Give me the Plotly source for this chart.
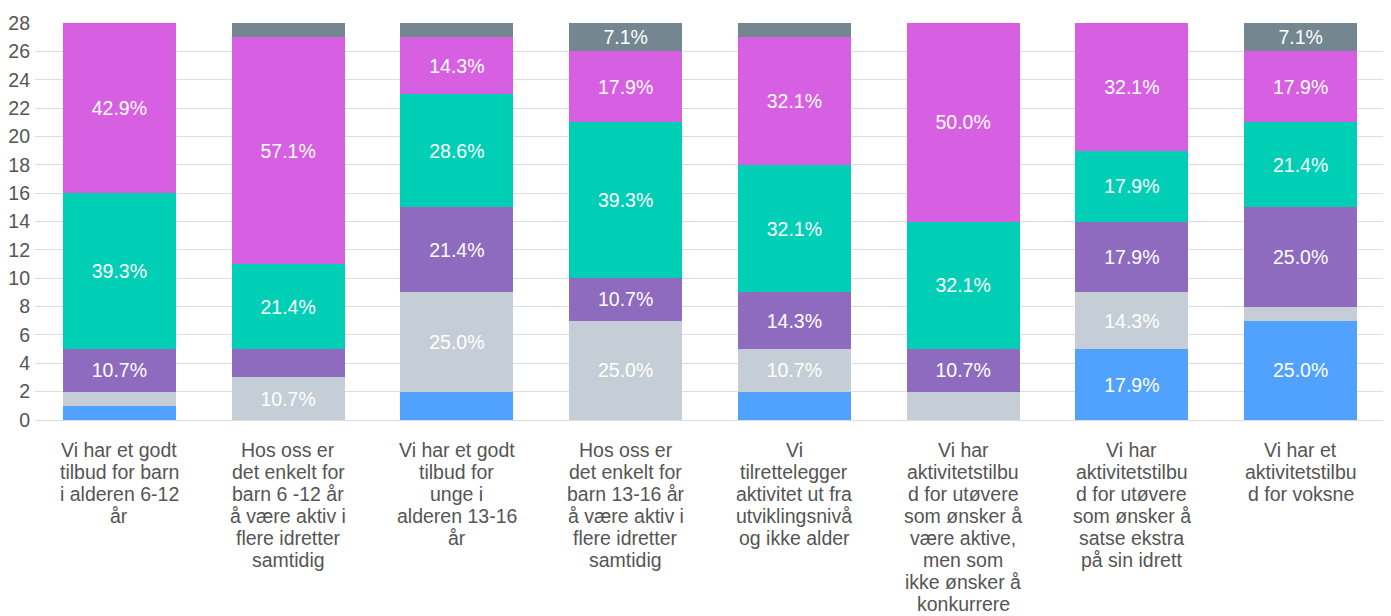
import plotly.graph_objects as go

categories = [
    "Vi har et godt<br>tilbud for barn<br>i alderen 6-12<br>år",
    "Hos oss er<br>det enkelt for<br>barn 6 -12 år<br>å være aktiv i<br>flere idretter<br>samtidig",
    "Vi har et godt<br>tilbud for<br>unge i<br>alderen 13-16<br>år",
    "Hos oss er<br>det enkelt for<br>barn 13-16 år<br>å være aktiv i<br>flere idretter<br>samtidig",
    "Vi<br>tilrettelegger<br>aktivitet ut fra<br>utviklingsnivå<br>og ikke alder",
    "Vi har<br>aktivitetstilbu<br>d for utøvere<br>som ønsker å<br>være aktive,<br>men som<br>ikke ønsker å<br>konkurrere",
    "Vi har<br>aktivitetstilbu<br>d for utøvere<br>som ønsker å<br>satse ekstra<br>på sin idrett",
    "Vi har et<br>aktivitetstilbu<br>d for voksne",
]

total = 28
s1 = [1, 0, 2, 0, 2, 0, 5, 7]       # blue
s2 = [1, 3, 7, 7, 3, 2, 4, 1]       # light gray
s3 = [3, 2, 6, 3, 4, 3, 5, 7]       # purple
s4 = [11, 6, 8, 11, 9, 9, 5, 6]     # teal
s5 = [12, 16, 4, 5, 9, 14, 9, 5]    # magenta
s6 = [0, 1, 1, 2, 1, 0, 0, 2]       # dark gray

series = [
    ("Serie 1", s1, "#51A2FF", 3),
    ("Serie 2", s2, "#C5CED6", 3),
    ("Serie 3", s3, "#8E6BBF", 3),
    ("Serie 4", s4, "#00CFB6", 3),
    ("Serie 5", s5, "#D75FE2", 3),
    ("Serie 6", s6, "#748790", 2),
]

FONT = "Liberation Sans, Arial, Helvetica, sans-serif"

fig = go.Figure()
for name, vals, color, thr in series:
    texts = [f"{v / total * 100:.1f}%" if v >= thr else "" for v in vals]
    fig.add_trace(go.Bar(
        name=name, x=categories, y=vals, marker_color=color,
        marker_line_width=0,
        text=texts, textposition="inside", insidetextanchor="middle",
        textangle=0,
        textfont=dict(color="white", size=19.5, family=FONT),
    ))

# category labels: one annotation per line for tighter line spacing
annotations = []
for cat in categories:
    for i, line in enumerate(cat.split("<br>")):
        annotations.append(dict(
            x=cat, xref="x", y=0, yref="paper",
            text=line, showarrow=False,
            xanchor="center", yanchor="middle",
            yshift=-(30 + 22 * i),
            font=dict(size=19.5, color="#555555", family=FONT),
        ))

fig.update_layout(
    barmode="stack",
    bargap=0.33,
    width=1383, height=608,
    margin=dict(l=27, r=6, t=15, b=196),
    plot_bgcolor="white", paper_bgcolor="white",
    showlegend=False,
    uniformtext=dict(mode=False),
    font=dict(family=FONT, color="#555555", size=16),
    annotations=annotations,
)
fig.update_yaxes(
    range=[0, 28], dtick=2, showgrid=True, gridcolor="#DDDDDD", gridwidth=1,
    zeroline=True, zerolinecolor="#DDDDDD", zerolinewidth=1,
    tickfont=dict(size=19.5, color="#555555"), ticks="", ticklen=0,
    ticklabelstandoff=4,
    showline=False, automargin=False,
)
fig.update_xaxes(
    showticklabels=False, showline=False, ticks="", automargin=False,
)

fig.write_html("out.html")
